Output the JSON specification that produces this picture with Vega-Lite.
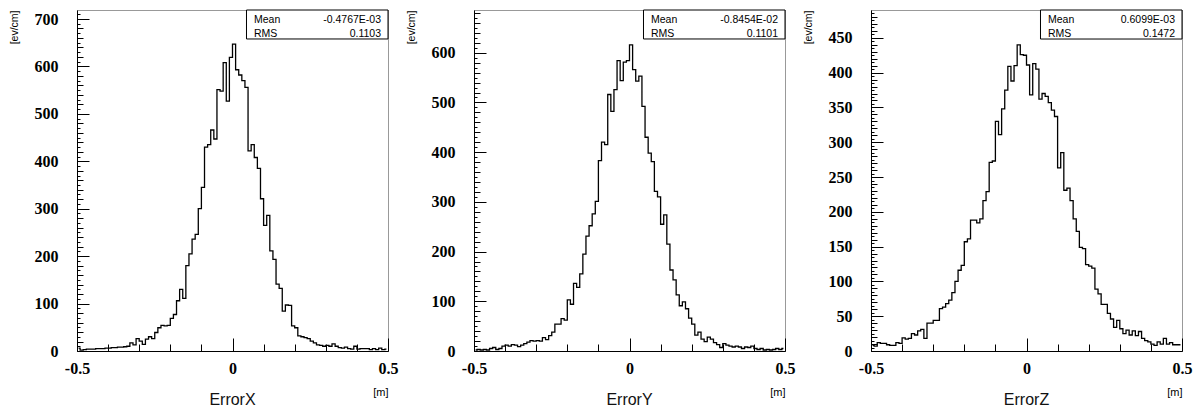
{
  "$schema": "https://vega.github.io/schema/vega-lite/v6.json",
  "padding": {"left": 8, "top": 9, "right": 5, "bottom": 0},
  "background": "white",
  "bounds": "flush",
  "spacing": 86,
  "config": {
    "view": {"stroke": "#333", "strokeDash": [1, 1], "strokeWidth": 1},
    "axis": {"domainColor": "black", "domainWidth": 1, "tickColor": "black", "tickWidth": 1, "grid": false, "labelFont": "Liberation Serif", "labelFontWeight": "bold", "labelFontSize": 16, "labelColor": "black", "titleColor": "black", "titleFontWeight": "normal", "titleFont": "Liberation Sans", "labelOverlap": false, "labelFlush": false},
    "title": {"font": "Liberation Sans", "fontSize": 16, "fontWeight": "normal", "color": "#111", "orient": "bottom", "anchor": "middle", "offset": -5}
  },
  "datasets": {
    "errx": [
      {"x": -0.495, "n": 6}, {"x": -0.485, "n": 2}, {"x": -0.475, "n": 3}, {"x": -0.465, "n": 4}, {"x": -0.455, "n": 4}, {"x": -0.445, "n": 4}, {"x": -0.435, "n": 5}, {"x": -0.425, "n": 5}, {"x": -0.415, "n": 5}, {"x": -0.405, "n": 6},
      {"x": -0.395, "n": 6}, {"x": -0.385, "n": 7}, {"x": -0.375, "n": 7}, {"x": -0.365, "n": 8}, {"x": -0.355, "n": 8}, {"x": -0.345, "n": 9}, {"x": -0.335, "n": 10}, {"x": -0.325, "n": 17}, {"x": -0.315, "n": 13}, {"x": -0.305, "n": 26},
      {"x": -0.295, "n": 21}, {"x": -0.285, "n": 14}, {"x": -0.275, "n": 25}, {"x": -0.265, "n": 30}, {"x": -0.255, "n": 26}, {"x": -0.245, "n": 39}, {"x": -0.235, "n": 49}, {"x": -0.225, "n": 54}, {"x": -0.215, "n": 53}, {"x": -0.205, "n": 54},
      {"x": -0.195, "n": 69}, {"x": -0.185, "n": 77}, {"x": -0.175, "n": 106}, {"x": -0.165, "n": 130}, {"x": -0.155, "n": 111}, {"x": -0.145, "n": 180}, {"x": -0.135, "n": 205}, {"x": -0.125, "n": 236}, {"x": -0.115, "n": 246}, {"x": -0.105, "n": 300},
      {"x": -0.095, "n": 345}, {"x": -0.085, "n": 430}, {"x": -0.075, "n": 435}, {"x": -0.065, "n": 466}, {"x": -0.055, "n": 447}, {"x": -0.045, "n": 551}, {"x": -0.035, "n": 548}, {"x": -0.025, "n": 608}, {"x": -0.015, "n": 527}, {"x": -0.005, "n": 619},
      {"x": 0.005, "n": 647}, {"x": 0.015, "n": 593}, {"x": 0.025, "n": 582}, {"x": 0.035, "n": 570}, {"x": 0.045, "n": 556}, {"x": 0.055, "n": 422}, {"x": 0.065, "n": 435}, {"x": 0.075, "n": 408}, {"x": 0.085, "n": 385}, {"x": 0.095, "n": 321},
      {"x": 0.105, "n": 265}, {"x": 0.115, "n": 286}, {"x": 0.125, "n": 211}, {"x": 0.135, "n": 193}, {"x": 0.145, "n": 141}, {"x": 0.155, "n": 132}, {"x": 0.165, "n": 84}, {"x": 0.175, "n": 97}, {"x": 0.185, "n": 96}, {"x": 0.195, "n": 53},
      {"x": 0.205, "n": 49}, {"x": 0.215, "n": 32}, {"x": 0.225, "n": 30}, {"x": 0.235, "n": 28}, {"x": 0.245, "n": 26}, {"x": 0.255, "n": 21}, {"x": 0.265, "n": 17}, {"x": 0.275, "n": 13}, {"x": 0.285, "n": 12}, {"x": 0.295, "n": 10},
      {"x": 0.305, "n": 12}, {"x": 0.315, "n": 10}, {"x": 0.325, "n": 15}, {"x": 0.335, "n": 10}, {"x": 0.345, "n": 7}, {"x": 0.355, "n": 6}, {"x": 0.365, "n": 8}, {"x": 0.375, "n": 5}, {"x": 0.385, "n": 4}, {"x": 0.395, "n": 10},
      {"x": 0.405, "n": 4}, {"x": 0.415, "n": 5}, {"x": 0.425, "n": 5}, {"x": 0.435, "n": 5}, {"x": 0.445, "n": 3}, {"x": 0.455, "n": 5}, {"x": 0.465, "n": 3}, {"x": 0.475, "n": 6}, {"x": 0.485, "n": 3}, {"x": 0.495, "n": 4}
    ],
    "erry": [
      {"x": -0.495, "n": 2}, {"x": -0.485, "n": 3}, {"x": -0.475, "n": 2}, {"x": -0.465, "n": 3}, {"x": -0.455, "n": 2}, {"x": -0.445, "n": 5}, {"x": -0.435, "n": 7}, {"x": -0.425, "n": 3}, {"x": -0.415, "n": 5}, {"x": -0.405, "n": 10},
      {"x": -0.395, "n": 12}, {"x": -0.385, "n": 10}, {"x": -0.375, "n": 13}, {"x": -0.365, "n": 12}, {"x": -0.355, "n": 9}, {"x": -0.345, "n": 12}, {"x": -0.335, "n": 15}, {"x": -0.325, "n": 18}, {"x": -0.315, "n": 21}, {"x": -0.305, "n": 20},
      {"x": -0.295, "n": 21}, {"x": -0.285, "n": 20}, {"x": -0.275, "n": 27}, {"x": -0.265, "n": 23}, {"x": -0.255, "n": 31}, {"x": -0.245, "n": 38}, {"x": -0.235, "n": 54}, {"x": -0.225, "n": 54}, {"x": -0.215, "n": 65}, {"x": -0.205, "n": 62},
      {"x": -0.195, "n": 103}, {"x": -0.185, "n": 94}, {"x": -0.175, "n": 136}, {"x": -0.165, "n": 128}, {"x": -0.155, "n": 155}, {"x": -0.145, "n": 195}, {"x": -0.135, "n": 231}, {"x": -0.125, "n": 252}, {"x": -0.115, "n": 276}, {"x": -0.105, "n": 301},
      {"x": -0.095, "n": 383}, {"x": -0.085, "n": 420}, {"x": -0.075, "n": 415}, {"x": -0.065, "n": 516}, {"x": -0.055, "n": 482}, {"x": -0.045, "n": 526}, {"x": -0.035, "n": 584}, {"x": -0.025, "n": 544}, {"x": -0.015, "n": 581}, {"x": -0.005, "n": 584},
      {"x": 0.005, "n": 616}, {"x": 0.015, "n": 566}, {"x": 0.025, "n": 543}, {"x": 0.035, "n": 553}, {"x": 0.045, "n": 492}, {"x": 0.055, "n": 430}, {"x": 0.065, "n": 398}, {"x": 0.075, "n": 381}, {"x": 0.085, "n": 321}, {"x": 0.095, "n": 310},
      {"x": 0.105, "n": 255}, {"x": 0.115, "n": 274}, {"x": 0.125, "n": 215}, {"x": 0.135, "n": 163}, {"x": 0.145, "n": 143}, {"x": 0.155, "n": 113}, {"x": 0.165, "n": 91}, {"x": 0.175, "n": 99}, {"x": 0.185, "n": 85}, {"x": 0.195, "n": 66},
      {"x": 0.205, "n": 54}, {"x": 0.215, "n": 32}, {"x": 0.225, "n": 38}, {"x": 0.235, "n": 24}, {"x": 0.245, "n": 19}, {"x": 0.255, "n": 28}, {"x": 0.265, "n": 24}, {"x": 0.275, "n": 17}, {"x": 0.285, "n": 13}, {"x": 0.295, "n": 7},
      {"x": 0.305, "n": 15}, {"x": 0.315, "n": 12}, {"x": 0.325, "n": 10}, {"x": 0.335, "n": 8}, {"x": 0.345, "n": 10}, {"x": 0.355, "n": 8}, {"x": 0.365, "n": 5}, {"x": 0.375, "n": 8}, {"x": 0.385, "n": 7}, {"x": 0.395, "n": 10},
      {"x": 0.405, "n": 5}, {"x": 0.415, "n": 3}, {"x": 0.425, "n": 5}, {"x": 0.435, "n": 2}, {"x": 0.445, "n": 3}, {"x": 0.455, "n": 2}, {"x": 0.465, "n": 3}, {"x": 0.475, "n": 5}, {"x": 0.485, "n": 3}, {"x": 0.495, "n": 5}
    ],
    "errz": [
      {"x": -0.495, "n": 8}, {"x": -0.485, "n": 7}, {"x": -0.475, "n": 12}, {"x": -0.465, "n": 11}, {"x": -0.455, "n": 11}, {"x": -0.445, "n": 9}, {"x": -0.435, "n": 8}, {"x": -0.425, "n": 8}, {"x": -0.415, "n": 12}, {"x": -0.405, "n": 11},
      {"x": -0.395, "n": 19}, {"x": -0.385, "n": 17}, {"x": -0.375, "n": 18}, {"x": -0.365, "n": 25}, {"x": -0.355, "n": 23}, {"x": -0.345, "n": 29}, {"x": -0.335, "n": 31}, {"x": -0.325, "n": 18}, {"x": -0.315, "n": 40}, {"x": -0.305, "n": 40},
      {"x": -0.295, "n": 44}, {"x": -0.285, "n": 44}, {"x": -0.275, "n": 61}, {"x": -0.265, "n": 63}, {"x": -0.255, "n": 68}, {"x": -0.245, "n": 73}, {"x": -0.235, "n": 84}, {"x": -0.225, "n": 100}, {"x": -0.215, "n": 116}, {"x": -0.205, "n": 123},
      {"x": -0.195, "n": 157}, {"x": -0.185, "n": 161}, {"x": -0.175, "n": 188}, {"x": -0.165, "n": 188}, {"x": -0.155, "n": 184}, {"x": -0.145, "n": 190}, {"x": -0.135, "n": 216}, {"x": -0.125, "n": 229}, {"x": -0.115, "n": 271}, {"x": -0.105, "n": 273},
      {"x": -0.095, "n": 330}, {"x": -0.085, "n": 311}, {"x": -0.075, "n": 348}, {"x": -0.065, "n": 375}, {"x": -0.055, "n": 409}, {"x": -0.045, "n": 388}, {"x": -0.035, "n": 410}, {"x": -0.025, "n": 440}, {"x": -0.015, "n": 426}, {"x": -0.005, "n": 425},
      {"x": 0.005, "n": 411}, {"x": 0.015, "n": 368}, {"x": 0.025, "n": 413}, {"x": 0.035, "n": 405}, {"x": 0.045, "n": 362}, {"x": 0.055, "n": 370}, {"x": 0.065, "n": 366}, {"x": 0.075, "n": 357}, {"x": 0.085, "n": 346}, {"x": 0.095, "n": 337},
      {"x": 0.105, "n": 263}, {"x": 0.115, "n": 285}, {"x": 0.125, "n": 231}, {"x": 0.135, "n": 234}, {"x": 0.145, "n": 216}, {"x": 0.155, "n": 190}, {"x": 0.165, "n": 172}, {"x": 0.175, "n": 149}, {"x": 0.185, "n": 147}, {"x": 0.195, "n": 124},
      {"x": 0.205, "n": 122}, {"x": 0.215, "n": 119}, {"x": 0.225, "n": 89}, {"x": 0.235, "n": 82}, {"x": 0.245, "n": 67}, {"x": 0.255, "n": 67}, {"x": 0.265, "n": 54}, {"x": 0.275, "n": 46}, {"x": 0.285, "n": 34}, {"x": 0.295, "n": 44},
      {"x": 0.305, "n": 32}, {"x": 0.315, "n": 25}, {"x": 0.325, "n": 30}, {"x": 0.335, "n": 23}, {"x": 0.345, "n": 29}, {"x": 0.355, "n": 22}, {"x": 0.365, "n": 28}, {"x": 0.375, "n": 18}, {"x": 0.385, "n": 15}, {"x": 0.395, "n": 13},
      {"x": 0.405, "n": 10}, {"x": 0.415, "n": 8}, {"x": 0.425, "n": 13}, {"x": 0.435, "n": 10}, {"x": 0.445, "n": 18}, {"x": 0.455, "n": 10}, {"x": 0.465, "n": 12}, {"x": 0.475, "n": 9}, {"x": 0.485, "n": 9}, {"x": 0.495, "n": 9}
    ],
    "statx": [{"stat": "Mean", "val": "-0.4767E-03"}, {"stat": "RMS", "val": "0.1103"}],
    "staty": [{"stat": "Mean", "val": "-0.8454E-02"}, {"stat": "RMS", "val": "0.1101"}],
    "statz": [{"stat": "Mean", "val": "0.6099E-03"}, {"stat": "RMS", "val": "0.1472"}]
  },
  "hconcat": [
    {
      "width": 311, "height": 341,
      "title": {"text": "ErrorX"},
      "resolve": {"axis": {"x": "independent", "y": "independent"}},
      "layer": [
        {
          "data": {"name": "errx"},
          "mark": {"type": "line", "interpolate": "step", "color": "black", "strokeWidth": 1.3},
          "encoding": {
            "x": {"field": "x", "type": "quantitative", "scale": {"domain": [-0.5, 0.5], "nice": false, "zero": false},
              "axis": {"orient": "bottom", "values": [-0.5, 0, 0.5], "tickSize": -13, "labelPadding": 22, "labelExpr": "datum.value == 0 ? '0' : datum.value < 0 ? '-0.5' : '0.5'", "title": "[m]", "titleFontSize": 11, "titleAnchor": "end", "titleAlign": "right", "titleX": 311, "titleY": 41, "titleBaseline": "middle"}},
            "y": {"field": "n", "type": "quantitative", "scale": {"domain": [0, 719], "nice": false},
              "axis": {"orient": "left", "values": [0, 100, 200, 300, 400, 500, 600, 700], "tickSize": -12, "labelPadding": 31,
                "title": "[ev/cm]", "titleFontSize": 10.5, "titleAnchor": "end", "titleAlign": "right", "titleAngle": -90, "titleX": -63, "titleY": 0, "titleBaseline": "middle"}}
          }
        },
        {
          "data": {"values": [{}]},
          "mark": {"type": "rect", "fill": "white", "stroke": "black", "strokeWidth": 1},
          "encoding": {
            "x": {"datum": 0.045, "axis": {"orient": "bottom", "values": [-0.4, -0.3, -0.2, -0.1, 0.1, 0.2, 0.3, 0.4], "tickSize": -7, "labels": false, "domain": false, "title": null}},
            "x2": {"datum": 0.5},
            "y": {"datum": 657.9, "axis": {"orient": "left", "values": [10,30,50,70,90,110,130,150,170,190,210,230,250,270,290,310,330,350,370,390,410,430,450,470,490,510,530,550,570,590,610,630,650,670,690,710], "tickSize": -3, "labels": false, "domain": false, "title": null}},
            "y2": {"datum": 719}
          }
        },
        {
          "data": {"name": "statx"},
          "mark": {"type": "text", "align": "left", "baseline": "middle", "font": "Liberation Sans", "fontSize": 10.5, "color": "black"},
          "encoding": {
            "x": {"datum": 0.069, "axis": null},
            "y": {"datum": 697.5, "axis": {"orient": "left", "values": [20,40,60,80,120,140,160,180,220,240,260,280,320,340,360,380,420,440,460,480,520,540,560,580,620,640,660,680], "tickSize": -6, "labels": false, "domain": false, "title": null}},
            "yOffset": {"field": "stat", "type": "nominal", "scale": {"type": "point", "padding": 0, "range": [0, 13.5]}},
            "text": {"field": "stat"}
          }
        },
        {
          "data": {"name": "statx"},
          "mark": {"type": "text", "align": "right", "baseline": "middle", "font": "Liberation Sans", "fontSize": 10.5, "color": "black"},
          "encoding": {
            "x": {"datum": 0.4775, "axis": null},
            "y": {"datum": 697.5, "axis": null},
            "yOffset": {"field": "stat", "type": "nominal", "scale": {"type": "point", "padding": 0, "range": [0, 13.5]}},
            "text": {"field": "val"}
          }
        }
      ]
    },
    {
      "width": 311, "height": 341,
      "title": {"text": "ErrorY"},
      "resolve": {"axis": {"x": "independent", "y": "independent"}},
      "layer": [
        {
          "data": {"name": "erry"},
          "mark": {"type": "line", "interpolate": "step", "color": "black", "strokeWidth": 1.3},
          "encoding": {
            "x": {"field": "x", "type": "quantitative", "scale": {"domain": [-0.5, 0.5], "nice": false, "zero": false},
              "axis": {"orient": "bottom", "values": [-0.5, 0, 0.5], "tickSize": -13, "labelPadding": 22, "labelExpr": "datum.value == 0 ? '0' : datum.value < 0 ? '-0.5' : '0.5'", "title": "[m]", "titleFontSize": 11, "titleAnchor": "end", "titleAlign": "right", "titleX": 311, "titleY": 41, "titleBaseline": "middle"}},
            "y": {"field": "n", "type": "quantitative", "scale": {"domain": [0, 686], "nice": false},
              "axis": {"orient": "left", "values": [0, 100, 200, 300, 400, 500, 600], "tickSize": -12, "labelPadding": 31,
                "title": "[ev/cm]", "titleFontSize": 10.5, "titleAnchor": "end", "titleAlign": "right", "titleAngle": -90, "titleX": -63, "titleY": 0, "titleBaseline": "middle"}}
          }
        },
        {
          "data": {"values": [{}]},
          "mark": {"type": "rect", "fill": "white", "stroke": "black", "strokeWidth": 1},
          "encoding": {
            "x": {"datum": 0.045, "axis": {"orient": "bottom", "values": [-0.4, -0.3, -0.2, -0.1, 0.1, 0.2, 0.3, 0.4], "tickSize": -7, "labels": false, "domain": false, "title": null}},
            "x2": {"datum": 0.5},
            "y": {"datum": 627.7, "axis": {"orient": "left", "values": [10,30,50,70,90,110,130,150,170,190,210,230,250,270,290,310,330,350,370,390,410,430,450,470,490,510,530,550,570,590,610,630,650,670], "tickSize": -3, "labels": false, "domain": false, "title": null}},
            "y2": {"datum": 686}
          }
        },
        {
          "data": {"name": "staty"},
          "mark": {"type": "text", "align": "left", "baseline": "middle", "font": "Liberation Sans", "fontSize": 10.5, "color": "black"},
          "encoding": {
            "x": {"datum": 0.069, "axis": null},
            "y": {"datum": 665.5, "axis": {"orient": "left", "values": [20,40,60,80,120,140,160,180,220,240,260,280,320,340,360,380,420,440,460,480,520,540,560,580,620,640,660,680], "tickSize": -6, "labels": false, "domain": false, "title": null}},
            "yOffset": {"field": "stat", "type": "nominal", "scale": {"type": "point", "padding": 0, "range": [0, 13.5]}},
            "text": {"field": "stat"}
          }
        },
        {
          "data": {"name": "staty"},
          "mark": {"type": "text", "align": "right", "baseline": "middle", "font": "Liberation Sans", "fontSize": 10.5, "color": "black"},
          "encoding": {
            "x": {"datum": 0.4775, "axis": null},
            "y": {"datum": 665.5, "axis": null},
            "yOffset": {"field": "stat", "type": "nominal", "scale": {"type": "point", "padding": 0, "range": [0, 13.5]}},
            "text": {"field": "val"}
          }
        }
      ]
    },
    {
      "width": 311, "height": 341,
      "title": {"text": "ErrorZ"},
      "resolve": {"axis": {"x": "independent", "y": "independent"}},
      "layer": [
        {
          "data": {"name": "errz"},
          "mark": {"type": "line", "interpolate": "step", "color": "black", "strokeWidth": 1.3},
          "encoding": {
            "x": {"field": "x", "type": "quantitative", "scale": {"domain": [-0.5, 0.5], "nice": false, "zero": false},
              "axis": {"orient": "bottom", "values": [-0.5, 0, 0.5], "tickSize": -13, "labelPadding": 22, "labelExpr": "datum.value == 0 ? '0' : datum.value < 0 ? '-0.5' : '0.5'", "title": "[m]", "titleFontSize": 11, "titleAnchor": "end", "titleAlign": "right", "titleX": 311, "titleY": 41, "titleBaseline": "middle"}},
            "y": {"field": "n", "type": "quantitative", "scale": {"domain": [0, 490], "nice": false},
              "axis": {"orient": "left", "values": [0, 50, 100, 150, 200, 250, 300, 350, 400, 450], "tickSize": -12, "labelPadding": 31,
                "title": "[ev/cm]", "titleFontSize": 10.5, "titleAnchor": "end", "titleAlign": "right", "titleAngle": -90, "titleX": -63, "titleY": 0, "titleBaseline": "middle"}}
          }
        },
        {
          "data": {"values": [{}]},
          "mark": {"type": "rect", "fill": "white", "stroke": "black", "strokeWidth": 1},
          "encoding": {
            "x": {"datum": 0.045, "axis": {"orient": "bottom", "values": [-0.4, -0.3, -0.2, -0.1, 0.1, 0.2, 0.3, 0.4], "tickSize": -7, "labels": false, "domain": false, "title": null}},
            "x2": {"datum": 0.5},
            "y": {"datum": 448.3, "axis": {"orient": "left", "values": [5,15,25,35,45,55,65,75,85,95,105,115,125,135,145,155,165,175,185,195,205,215,225,235,245,255,265,275,285,295,305,315,325,335,345,355,365,375,385,395,405,415,425,435,445,455,465,475,485], "tickSize": -3, "labels": false, "domain": false, "title": null}},
            "y2": {"datum": 490}
          }
        },
        {
          "data": {"name": "statz"},
          "mark": {"type": "text", "align": "left", "baseline": "middle", "font": "Liberation Sans", "fontSize": 10.5, "color": "black"},
          "encoding": {
            "x": {"datum": 0.069, "axis": null},
            "y": {"datum": 475.3, "axis": {"orient": "left", "values": [10,20,30,40,60,70,80,90,110,120,130,140,160,170,180,190,210,220,230,240,260,270,280,290,310,320,330,340,360,370,380,390,410,420,430,440,460,470,480], "tickSize": -6, "labels": false, "domain": false, "title": null}},
            "yOffset": {"field": "stat", "type": "nominal", "scale": {"type": "point", "padding": 0, "range": [0, 13.5]}},
            "text": {"field": "stat"}
          }
        },
        {
          "data": {"name": "statz"},
          "mark": {"type": "text", "align": "right", "baseline": "middle", "font": "Liberation Sans", "fontSize": 10.5, "color": "black"},
          "encoding": {
            "x": {"datum": 0.4775, "axis": null},
            "y": {"datum": 475.3, "axis": null},
            "yOffset": {"field": "stat", "type": "nominal", "scale": {"type": "point", "padding": 0, "range": [0, 13.5]}},
            "text": {"field": "val"}
          }
        }
      ]
    }
  ]
}
